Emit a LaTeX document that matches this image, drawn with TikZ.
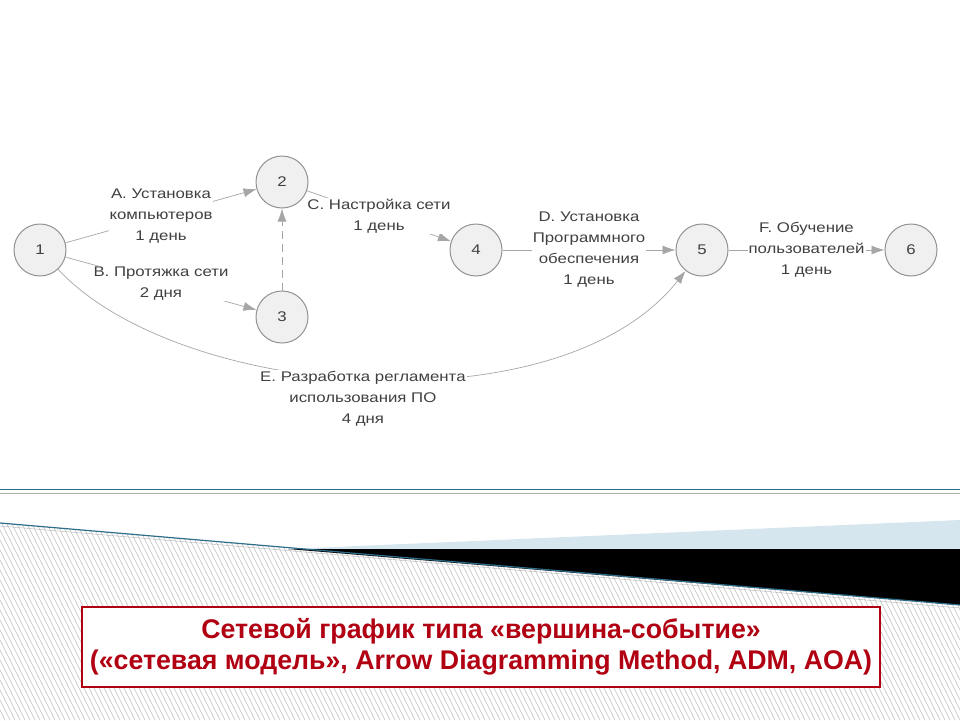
\documentclass[tikz,border=0pt]{standalone}
\usepackage{fontspec}
\setmainfont{Liberation Sans}
\newfontfamily\labelfont[FakeStretch=1.2]{Liberation Sans}
\newfontfamily\titlefont[FakeStretch=0.99]{Liberation Sans}
\usetikzlibrary{arrows.meta}
\definecolor{tealline}{HTML}{2E6E8A}
\definecolor{skyband}{HTML}{D6E6EE}
\definecolor{titlered}{HTML}{B00012}
\definecolor{labelgray}{HTML}{404040}

\begin{document}
\begin{tikzpicture}[x=1pt, y=-1pt, >={Latex[length=13pt,width=9pt]},
    font=\labelfont\fontsize{14}{21}\selectfont]
      \tikzstyle{event}=[circle, draw=gray!85, fill=gray!12, line width=1pt, minimum size=52pt, inner sep=0pt, text=labelgray]
      \tikzstyle{task}=[fill=white, align=center, inner sep=1pt, text=labelgray]
      \tikzstyle{work}=[->, draw=gray!70, line width=0.7pt]
      \tikzstyle{hatch}=[draw=gray!50, line width=0.6pt]

      \useasboundingbox (0,0) rectangle (960,720);
      \fill[white] (0,0) rectangle (960,720);

      % bottom band
      \begin{scope}
        \clip (0,523) -- (960,605) -- (960,720) -- (0,720) -- cycle;
        \foreach \x in {-120,-115,...,960}
          \draw[hatch] (\x,500) -- (\x+110,720);
      \end{scope}
      \fill[skyband] (288,549) -- (960,520) -- (960,549) -- cycle;
      \fill[black] (288,549) -- (960,549) -- (960,605) -- cycle;
      \draw[tealline, line width=1.2pt] (0,523) -- (960,605);
      \draw[gray!60] (0,526) -- (960,608);
      \draw[tealline, line width=1pt] (0,489) -- (960,489);
      \draw[gray!60, line width=1pt] (0,493) -- (960,493);

      \node[draw=titlered, line width=2pt, fill=white, minimum width=798pt, minimum height=80pt,
        align=center, text=titlered, font=\titlefont\bfseries\fontsize{27}{31}\selectfont] (title) at (481,647)
        {Сетевой график типа «вершина-событие»\\(«сетевая модель», Arrow Diagramming Method, ADM, AOA)};

      % events
      \node[event] (n1) at (40,250) {1};
      \node[event] (n2) at (282,182) {2};
      \node[event] (n3) at (282,317) {3};
      \node[event] (n4) at (476,250) {4};
      \node[event] (n5) at (702,250) {5};
      \node[event] (n6) at (911,250) {6};

      % works
      \path (n1) edge[work] node[task] {А. Установка\\компьютеров\\1 день} (n2);
      \path (n1) edge[work] node[task] {В. Протяжка сети\\2 дня} (n3);
      \path (n3) edge[work, dash pattern=on 8pt off 5pt] (n2);
      \path (n2) edge[work] node[task] {С. Настройка сети\\1 день} (n4);
      \path (n4) edge[work] node[task] {D. Установка\\Программного\\обеспечения\\1 день} (n5);
      \path (n5) edge[work] node[task] {F. Обучение\\пользователей\\1 день} (n6);
      \draw[work] (n1) .. controls (180,400) and (560,430) .. node[task, pos=0.49, yshift=-20pt]
        {Е. Разработка регламента\\использования ПО\\4 дня} (n5);
  \end{tikzpicture}
\end{document}
